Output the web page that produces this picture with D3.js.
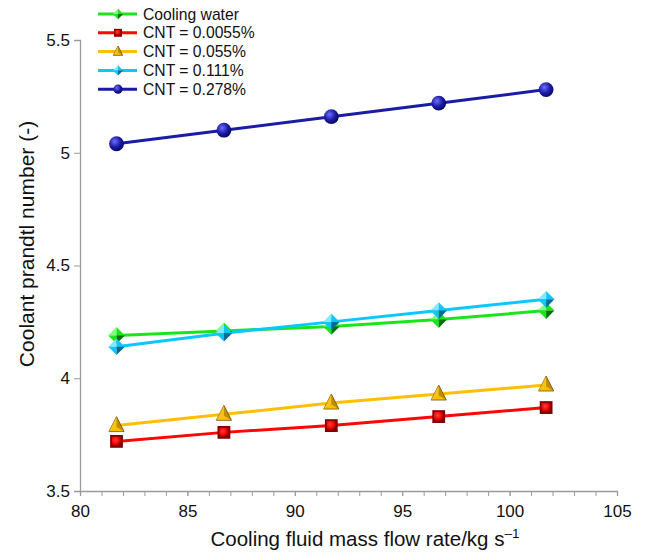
<!DOCTYPE html>
<html>
<head>
<meta charset="utf-8">
<script src="https://cdn.jsdelivr.net/npm/d3@7"></script>
<style>
  html, body { margin: 0; padding: 0; background: #fff; }
  svg { display: block; font-family: "Liberation Sans", Arial, Helvetica, sans-serif; }
</style>
</head>
<body>
<svg id="chart" width="646" height="552"></svg>
<script>
// Cooling fluid mass flow rate (kg/s)
const flowRates = [81.7, 86.7, 91.7, 96.7, 101.7];

// Coolant Prandtl number per fluid
const coolingWater = [4.19, 4.21, 4.23, 4.26, 4.30];
const cnt00055 = [3.72, 3.76, 3.79, 3.83, 3.87];
const cnt0055 = [3.79, 3.84, 3.89, 3.93, 3.97];
const cnt0111 = [4.14, 4.20, 4.25, 4.30, 4.35];
const cnt0278 = [5.04, 5.10, 5.16, 5.22, 5.28];

const seriesNames = ["Cooling water", "CNT = 0.0055%", "CNT = 0.055%", "CNT = 0.111%", "CNT = 0.278%"];
const xTicks = [80, 85, 90, 95, 100, 105];
const yTicks = [3.5, 4, 4.5, 5, 5.5];

const series = [
  { name: seriesNames[0], values: coolingWater, color: "#19e619", light: "#7dff7d", dark: "#087008", marker: "diamond" },
  { name: seriesNames[1], values: cnt00055, color: "#ff0606", light: "#ff4040", dark: "#820000", marker: "square" },
  { name: seriesNames[2], values: cnt0055, color: "#ffbf00", light: "#f0c428", dark: "#765000", marker: "triangle" },
  { name: seriesNames[3], values: cnt0111, color: "#0ac8ff", light: "#86e8ff", dark: "#086c92", marker: "diamond" },
  { name: seriesNames[4], values: cnt0278, color: "#1b1ba6", light: "#6e6eff", dark: "#05055c", marker: "circle" }
];

const svg = d3.select("#chart");
const W = 646, H = 552;

const x = d3.scaleLinear().domain([80, 105]).range([80, 617]);
const y = d3.scaleLinear().domain([3.5, 5.5]).range([491, 40]);

const defs = svg.append("defs");
series.forEach((s, i) => {
  const rg = defs.append("radialGradient").attr("id", "r" + i)
    .attr("cx", "0.38").attr("cy", "0.35").attr("r", "0.7");
  rg.append("stop").attr("offset", "0").attr("stop-color", s.light);
  rg.append("stop").attr("offset", "0.55").attr("stop-color", s.color);
  rg.append("stop").attr("offset", "1").attr("stop-color", s.dark);
});

// Axes
const axisColor = "#9a9a9a";
const xAxis = svg.append("g").attr("transform", `translate(0,${y(3.5)})`)
  .call(d3.axisBottom(x).tickValues(xTicks).tickSize(5).tickPadding(9).tickFormat(d3.format("d")));
svg.append("g").attr("transform", `translate(0,${y(3.5)})`)
  .call(d3.axisBottom(x).tickValues(d3.range(81, 105)).tickSize(5).tickFormat(""))
  .call(g => g.select(".domain").remove())
  .selectAll("line").attr("stroke", axisColor);
const yAxis = svg.append("g").attr("transform", `translate(${x(80)},0)`)
  .call(d3.axisLeft(y).tickValues(yTicks).tickSize(6).tickPadding(4).tickFormat(d => String(d)));

[xAxis, yAxis].forEach(a => {
  a.select(".domain").attr("stroke", axisColor).attr("stroke-width", 1.3);
  a.selectAll(".tick line").attr("stroke", axisColor);
  a.selectAll(".tick text").attr("fill", "#111").attr("font-size", 17)
    .attr("font-family", "'Liberation Sans', Arial, sans-serif");
});

// Axis titles
const xt = svg.append("text").attr("x", 365).attr("y", 546).attr("text-anchor", "middle")
  .attr("font-size", 20.5).attr("fill", "#111");
xt.append("tspan").text("Cooling fluid mass flow rate/kg s");
xt.append("tspan").attr("dy", -8).attr("font-size", 13.5).text("\u20131");

svg.append("text").attr("transform", `translate(34,244) rotate(-90)`)
  .attr("text-anchor", "middle").attr("font-size", 21).attr("fill", "#111")
  .text("Coolant prandtl number (-)");

function drawMarker(g, s, i, cx, cy, scale) {
  const k = scale || 1;
  if (s.marker === "circle") {
    g.append("circle").attr("cx", cx).attr("cy", cy).attr("r", 7.4 * k).attr("fill", `url(#r${i})`);
  } else if (s.marker === "square") {
    const h = 6.4 * k;
    g.append("rect").attr("x", cx - h).attr("y", cy - h).attr("width", 2 * h).attr("height", 2 * h)
      .attr("fill", s.dark);
    g.append("rect").attr("x", cx - h + 1.8 * k).attr("y", cy - h + 1.8 * k)
      .attr("width", 2 * h - 3.6 * k).attr("height", 2 * h - 3.6 * k)
      .attr("fill", `url(#r${i})`);
  } else if (s.marker === "triangle") {
    const w = 7.6 * k, top = cy - 9 * k, bot = cy + 6 * k, mid = cy + 1.5 * k;
    g.append("path").attr("d", `M${cx},${top}L${cx - w},${bot}L${cx + w},${bot}Z`)
      .attr("fill", s.color).attr("stroke", s.dark).attr("stroke-width", 0.8);
    g.append("path").attr("d", `M${cx},${top}L${cx - w},${bot}L${cx},${mid}Z`)
      .attr("fill", s.light).attr("opacity", 0.7);
    g.append("path").attr("d", `M${cx},${top}L${cx + w},${bot}L${cx},${mid}Z`)
      .attr("fill", s.dark).attr("opacity", 0.45);
  } else {
    const r = 8.3 * k;
    g.append("path").attr("d", `M${cx},${cy - r}L${cx - r},${cy}L${cx},${cy}Z`).attr("fill", s.light);
    g.append("path").attr("d", `M${cx},${cy - r}L${cx + r},${cy}L${cx},${cy}Z`).attr("fill", s.color);
    g.append("path").attr("d", `M${cx - r},${cy}L${cx},${cy + r}L${cx},${cy}Z`).attr("fill", s.color);
    g.append("path").attr("d", `M${cx + r},${cy}L${cx},${cy + r}L${cx},${cy}Z`).attr("fill", s.dark);
  }
}

// Series lines and markers
const line = d3.line().x((d, j) => x(flowRates[j])).y(d => y(d));
const drawOrder = [1, 2, 0, 3, 4];
drawOrder.forEach(i => {
  const s = series[i];
  svg.append("path").datum(s.values).attr("d", line).attr("fill", "none")
    .attr("stroke", s.color).attr("stroke-width", 3);
});
drawOrder.forEach(i => {
  const s = series[i];
  const g = svg.append("g");
  s.values.forEach((v, j) => drawMarker(g, s, i, x(flowRates[j]), y(v)));
});

// Legend
const legend = svg.append("g");
series.forEach((s, i) => {
  const ly = 14 + i * 18.8;
  legend.append("line").attr("x1", 98).attr("x2", 137).attr("y1", ly).attr("y2", ly)
    .attr("stroke", s.color).attr("stroke-width", 3);
  drawMarker(legend, s, i, 118, ly, 0.62);
  legend.append("text").attr("x", 143).attr("y", ly + 5.6).attr("font-size", 15.7).attr("fill", "#111")
    .text(s.name);
});
</script>
</body>
</html>
